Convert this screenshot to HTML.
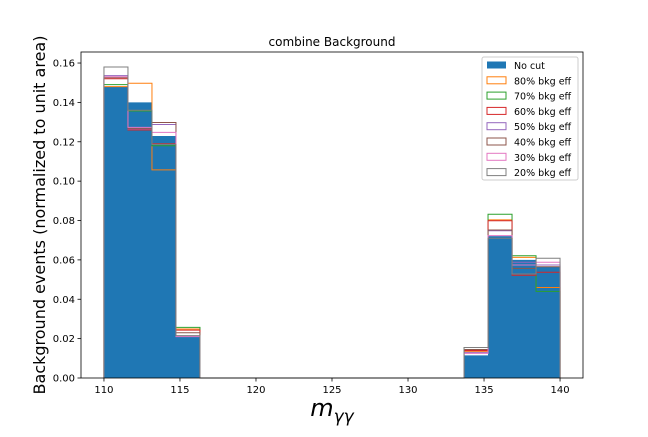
<!DOCTYPE html>
<html><head><meta charset="utf-8"><style>
body{margin:0;background:#fff;}
svg text{font-family:"DejaVu Sans","Liberation Sans",sans-serif;}
</style></head><body>
<svg id="chart" width="648" height="432" xmlns="http://www.w3.org/2000/svg">
<rect width="648" height="432" fill="#fff"/>
<g id="plot"></g>
<rect x="81" y="52" width="502" height="326" fill="none" stroke="#000" stroke-width="0.8"/>
<g id="axes"></g>
<text x="332" y="46" font-size="12" text-anchor="middle">combine Background</text>
<text transform="translate(45,215) rotate(-90)" font-size="16" text-anchor="middle">Background events (normalized to unit area)</text>
<text x="332" y="416" font-size="24" text-anchor="middle" font-style="italic">m<tspan font-size="17" dy="6">γγ</tspan></text>
<g id="legend"></g>
</svg>
<script>
const binLo = 110, binHi = 140, nBins = 19;
const seriesNames = ["No cut","80% bkg eff","70% bkg eff","60% bkg eff","50% bkg eff","40% bkg eff","30% bkg eff","20% bkg eff"];
const seriesColors = ["#1f77b4","#ff7f0e","#2ca02c","#d62728","#9467bd","#8c564b","#e377c2","#7f7f7f"];
// values per bin index (bins 0-3 and 15-18 non-zero)
const noCut = [0.1478,0.140,0.1229,0.0212,0,0,0,0,0,0,0,0,0,0,0,0.0115,0.0721,0.0600,0.0566];
const eff80 = [0.1480,0.1497,0.1057,0.0249,0,0,0,0,0,0,0,0,0,0,0,0.0135,0.0803,0.0613,0.0460];
const eff70 = [0.1490,0.1356,0.1180,0.0257,0,0,0,0,0,0,0,0,0,0,0,0.0155,0.0832,0.0621,0.0440];
const eff60 = [0.1520,0.1260,0.1190,0.0243,0,0,0,0,0,0,0,0,0,0,0,0.0140,0.0799,0.0522,0.0537];
const eff50 = [0.1536,0.1265,0.1288,0.0212,0,0,0,0,0,0,0,0,0,0,0,0.0130,0.0748,0.0588,0.0574];
const eff40 = [0.1525,0.1268,0.1298,0.0230,0,0,0,0,0,0,0,0,0,0,0,0.0145,0.0752,0.0557,0.0565];
const eff30 = [0.1530,0.1273,0.1248,0.0210,0,0,0,0,0,0,0,0,0,0,0,0.0125,0.0723,0.0574,0.0588];
const eff20 = [0.1580,0.1360,0.1187,0.0215,0,0,0,0,0,0,0,0,0,0,0,0.0155,0.0710,0.0528,0.0608];
const seriesData = [noCut,eff80,eff70,eff60,eff50,eff40,eff30,eff20];
const xTicks = [110,115,120,125,130,135,140];
const yTicks = [0,0.02,0.04,0.06,0.08,0.10,0.12,0.14,0.16];
const yTickLabels = ["0.00","0.02","0.04","0.06","0.08","0.10","0.12","0.14","0.16"];

const NS="http://www.w3.org/2000/svg";
const X0=81,X1=583,Y0=378,Y1=52;
const xmin=108.49,xmax=141.51,ymin=0,ymax=0.1656;
const xs=v=>X0+(v-xmin)/(xmax-xmin)*(X1-X0);
const ys=v=>Y0-(v-ymin)/(ymax-ymin)*(Y0-Y1);
const bw=(binHi-binLo)/nBins;
function mk(tag,attrs,parent){const e=document.createElementNS(NS,tag);for(const k in attrs)e.setAttribute(k,attrs[k]);parent.appendChild(e);return e;}
const plot=document.getElementById('plot'), axes=document.getElementById('axes'), legend=document.getElementById('legend');

seriesData.forEach((arr,si)=>{
  let d=`M${xs(binLo)},${ys(0)}`;
  arr.forEach((v,i)=>{d+=` L${xs(binLo+i*bw)},${ys(v)} L${xs(binLo+(i+1)*bw)},${ys(v)}`;});
  d+=` L${xs(binLo+arr.length*bw)},${ys(0)}`;
  const p=mk('path',{d:d},plot);
  if(si===0){p.setAttribute('fill',seriesColors[0]);p.setAttribute('stroke','none');}
  else{p.setAttribute('fill','none');p.setAttribute('stroke',seriesColors[si]);p.setAttribute('stroke-width','1');}
  
  
});

xTicks.forEach(t=>{
  const x=xs(t);
  const l=mk('line',{x1:x,x2:x,y1:Y0,y2:Y0+3.5,stroke:'#000','stroke-width':0.8},axes);
  
  
  const tx=mk('text',{x:x,y:Y0+15,'font-size':10,'text-anchor':'middle'},axes);
  tx.textContent=t;
  
  
});
yTicks.forEach((t,i)=>{
  const y=ys(t);
  const l=mk('line',{x1:X0-3.5,x2:X0,y1:y,y2:y,stroke:'#000','stroke-width':0.8},axes);
  
  
  const tx=mk('text',{x:X0-6,y:y+3.5,'font-size':10,'text-anchor':'end'},axes);
  tx.textContent=yTickLabels[i];
  
  
});

const lb=mk('rect',{x:482,y:57,width:96,height:123,fill:'#fff',stroke:'#ccc','stroke-width':1,rx:2},legend);


seriesNames.forEach((n,i)=>{
  const y=60+i*15.3;
  const r=mk('rect',{x:487,y:y+1.5,width:19,height:7},legend);
  if(i===0){r.setAttribute('fill',seriesColors[0]);}else{r.setAttribute('fill','none');r.setAttribute('stroke',seriesColors[i]);}
  
  
  const t=mk('text',{x:514,y:y+9,'font-size':9.5},legend);
  t.textContent=n;
  
  
});
</script>
</body></html>
